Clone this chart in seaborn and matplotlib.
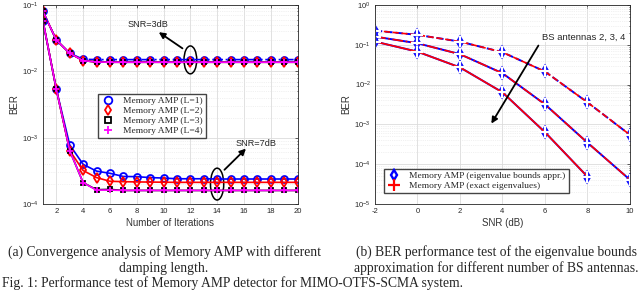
import seaborn as sns
import matplotlib.pyplot as plt
import pandas as pd
from matplotlib.patches import Ellipse
from matplotlib.lines import Line2D

# Apply the default theme
sns.set_theme(style="whitegrid")
plt.rcParams['font.family'] = ['Liberation Sans', 'DejaVu Sans']
plt.rcParams['mathtext.fontset'] = 'custom'
plt.rcParams['mathtext.rm'] = 'Liberation Sans'
plt.rcParams['axes.unicode_minus'] = False

# (a) convergence data
iters = list(range(1, 21))
ber_3db_l1 = [0.080, 0.0297, 0.0187, 0.0152, 0.0150, 0.0150, 0.0150, 0.0150, 0.0150, 0.0150,
              0.0150, 0.0150, 0.0150, 0.0150, 0.0150, 0.0150, 0.0150, 0.0150, 0.0150, 0.0150]
ber_3db_l234 = [0.080, 0.0297, 0.0187, 0.0145, 0.0138, 0.0137, 0.0137, 0.0137, 0.0137, 0.0137,
                0.0137, 0.0137, 0.0137, 0.0137, 0.0137, 0.0137, 0.0137, 0.0137, 0.0137, 0.0137]
ber_7db_l1 = [0.058, 5.4e-3, 7.8e-4, 3.96e-4, 3.13e-4, 2.9e-4, 2.6e-4, 2.58e-4, 2.5e-4, 2.46e-4,
              2.4e-4, 2.4e-4, 2.4e-4, 2.38e-4, 2.38e-4, 2.38e-4, 2.38e-4, 2.38e-4, 2.38e-4, 2.38e-4]
ber_7db_l2 = [0.058, 5.4e-3, 6.4e-4, 3.2e-4, 2.5e-4, 2.2e-4, 2.17e-4, 2.15e-4, 2.14e-4, 2.13e-4,
              2.12e-4, 2.12e-4, 2.12e-4, 2.12e-4, 2.12e-4, 2.12e-4, 2.12e-4, 2.12e-4, 2.12e-4, 2.12e-4]
ber_7db_l3 = [0.058, 5.4e-3, 6.4e-4, 2.1e-4, 1.64e-4, 1.66e-4, 1.6e-4, 1.6e-4, 1.6e-4, 1.6e-4,
              1.6e-4, 1.6e-4, 1.6e-4, 1.6e-4, 1.6e-4, 1.6e-4, 1.6e-4, 1.6e-4, 1.6e-4, 1.6e-4]
ber_7db_l4 = [0.058, 5.4e-3, 6.4e-4, 2.1e-4, 1.62e-4, 1.62e-4, 1.6e-4, 1.6e-4, 1.6e-4, 1.6e-4,
              1.6e-4, 1.6e-4, 1.6e-4, 1.6e-4, 1.6e-4, 1.6e-4, 1.6e-4, 1.6e-4, 1.6e-4, 1.6e-4]

# (b) BER vs SNR for 2, 3, 4 BS antennas
snr = [-2, 0, 2, 4, 6, 8, 10]
ber_ant2 = [0.227, 0.177, 0.12, 0.065, 0.0213, 3.6e-3, 5.5e-4]
ber_ant3 = [0.16, 0.109, 0.058, 0.0193, 3.2e-3, 3.5e-4, 4.1e-5]
snr_ant4 = [-2, 0, 2, 4, 6, 8]
ber_ant4 = [0.12, 0.067, 0.027, 6.4e-3, 6.4e-4, 4.9e-5]

fig = plt.figure(figsize=(6.4, 2.91), dpi=100)
ax1 = fig.add_axes([0.067, 0.299, 0.398, 0.684])
ax2 = fig.add_axes([0.586, 0.299, 0.398, 0.684])

serif = ['Liberation Serif', 'DejaVu Serif']
leg_kw = dict(prop={'family': serif, 'size': 6.8}, frameon=True, fancybox=False,
              edgecolor='#444444', framealpha=1, borderpad=0.3, labelspacing=0.15,
              handlelength=1.6, handletextpad=0.8, borderaxespad=0)
arrow_kw = dict(arrowstyle='-|>', color='black', lw=1.3, mutation_scale=9)


def style_axes(ax):
    ax.set_yscale('log')
    ax.set_facecolor('white')
    ax.grid(True, which='major', color='#dcdcdc', lw=0.6, ls='-')
    ax.grid(True, which='minor', axis='y', color='#e4e4e4', lw=0.5, ls=':')
    for s in ax.spines.values():
        s.set_color('#262626')
        s.set_linewidth(0.6)
    ax.tick_params(which='both', direction='in', top=True, right=True,
                   labelsize=5.5, colors='#262626', length=2, width=0.5, pad=3)
    ax.tick_params(which='minor', length=1)


# ---- (a) ----
curves_a = [
    (ber_3db_l1, 'blue', 'o', '-.'),
    (ber_3db_l234, 'red', 'd', '-'),
    (ber_3db_l234, 'black', 's', '-'),
    (ber_3db_l234, 'magenta', '+', '-'),
]
for vals, c, m, ls in curves_a:
    df = pd.DataFrame({'it': iters, 'ber': vals})
    sns.lineplot(data=df, x='it', y='ber', ax=ax1, color=c, marker=m, ls=ls, lw=1.2,
                 markersize=5 if m != 's' else 3.3, mfc='none', mec=c, mew=1.3, legend=False)

curves_a7 = [
    (ber_7db_l1, 'blue', 'o', 'Memory AMP (L=1)'),
    (ber_7db_l2, 'red', 'd', 'Memory AMP (L=2)'),
    (ber_7db_l3, 'black', 's', 'Memory AMP (L=3)'),
    (ber_7db_l4, 'magenta', '+', 'Memory AMP (L=4)'),
]
handles_a = []
for vals, c, m, lab in curves_a7:
    df = pd.DataFrame({'it': iters, 'ber': vals})
    ms = 5 if m != 's' else 3.3
    sns.lineplot(data=df, x='it', y='ber', ax=ax1, color=c, marker=m, lw=1.2,
                 markersize=ms, mfc='none', mec=c, mew=1.3, legend=False)
    handles_a.append(Line2D([], [], ls='none', marker=m, color=c, mfc='none', mec=c,
                            mew=1.3, markersize=ms + 0.5, label=lab))

style_axes(ax1)
ax1.set_xlim(1, 20)
ax1.set_ylim(1e-4, 1e-1)
ax1.set_xticks(range(2, 21, 2))
ax1.set_xlabel('Number of Iterations', fontsize=7, color='#333333', labelpad=2)
ax1.set_ylabel('BER', fontsize=7, color='#333333', labelpad=2)
ax1.legend(handles=handles_a, loc='upper left', bbox_to_anchor=(0.216, 0.553), **leg_kw)

ax1.add_patch(Ellipse((0.579, 0.724), 0.05, 0.14, transform=ax1.transAxes,
                      fill=False, ec='black', lw=1.1))
ax1.add_patch(Ellipse((0.684, 0.10), 0.052, 0.16, transform=ax1.transAxes,
                      fill=False, ec='black', lw=1.1))
ax1.annotate('', xy=(0.446, 0.871), xytext=(0.557, 0.774), xycoords='axes fraction',
             arrowprops=arrow_kw)
ax1.text(0.413, 0.90, 'SNR=3dB', transform=ax1.transAxes, fontsize=6.6, ha='center', va='center')
ax1.annotate('', xy=(0.805, 0.288), xytext=(0.705, 0.162), xycoords='axes fraction',
             arrowprops=arrow_kw)
ax1.text(0.838, 0.305, 'SNR=7dB', transform=ax1.transAxes, fontsize=6.6, ha='center', va='center')

# ---- (b) ----
curves_b = [
    (snr, ber_ant2, '--', '--'),
    (snr, ber_ant3, '-', '-.'),
    (snr_ant4, ber_ant4, '-', '-'),
]
for xs, vals, ls_b, ls_r in curves_b:
    df = pd.DataFrame({'snr': xs, 'ber': vals})
    sns.lineplot(data=df, x='snr', y='ber', ax=ax2, color='blue', marker='d', ls=ls_b, lw=1.4,
                 markersize=5.5, mfc='none', mec='blue', mew=1.7, legend=False)
    sns.lineplot(data=df, x='snr', y='ber', ax=ax2, color='red', marker='+', ls=ls_r, lw=1.2,
                 markersize=8, mew=1.6, legend=False)

handles_b = [
    Line2D([], [], ls='none', marker='d', color='blue', mfc='none', mec='blue', mew=1.7,
           markersize=5.5, label='Memory AMP (eigenvalue bounds appr.)'),
    Line2D([], [], ls='none', marker='+', color='red', mew=1.6, markersize=8,
           label='Memory AMP (exact eigenvalues)'),
]

style_axes(ax2)
ax2.set_xlim(-2, 10)
ax2.set_ylim(1e-5, 1e0)
ax2.set_xticks(range(-2, 11, 2))
ax2.set_xlabel('SNR (dB)', fontsize=7, color='#333333', labelpad=2)
ax2.set_ylabel('BER', fontsize=7, color='#333333', labelpad=2)
ax2.legend(handles=handles_b, loc='upper left', bbox_to_anchor=(0.035, 0.176), **leg_kw)

ax2.annotate('', xy=(0.451, 0.392), xytext=(0.647, 0.808), xycoords='axes fraction',
             arrowprops=arrow_kw)
ax2.text(0.654, 0.838, 'BS antennas 2, 3, 4', transform=ax2.transAxes, fontsize=6.8,
         ha='left', va='center', bbox=dict(fc='white', ec='none', pad=0.5))

# captions
cap_kw = dict(family=serif, fontsize=9.8, va='center')
fig.text(164 / 640, 1 - 252 / 291, '(a) Convergence analysis of Memory AMP with different',
         ha='center', **cap_kw)
fig.text(164 / 640, 1 - 268.5 / 291, 'damping length.', ha='center', **cap_kw)
fig.text(496 / 640, 1 - 252 / 291, '(b) BER performance test of the eigenvalue bounds',
         ha='center', **cap_kw)
fig.text(496 / 640, 1 - 268.5 / 291, 'approximation for different number of BS antennas.',
         ha='center', **cap_kw)
fig.text(2 / 640, 1 - 283.5 / 291,
         'Fig. 1: Performance test of Memory AMP detector for MIMO-OTFS-SCMA system.',
         ha='left', **cap_kw)

fig.savefig('out.png', dpi=100)
